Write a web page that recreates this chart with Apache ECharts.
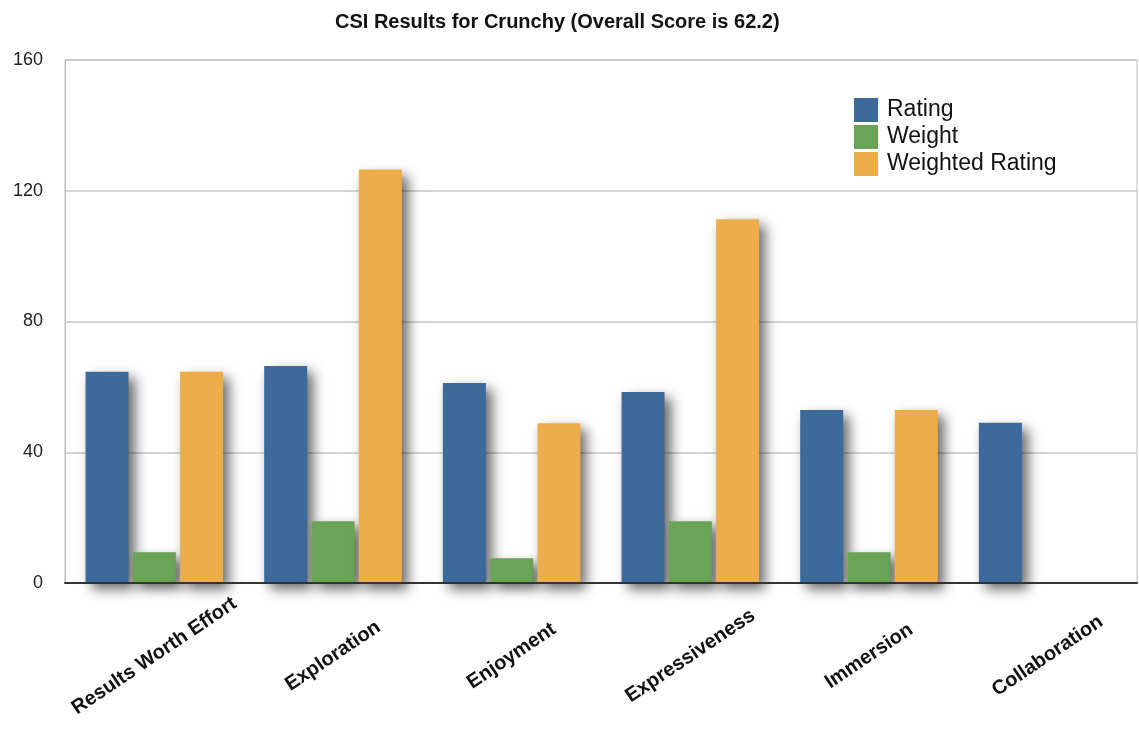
<!DOCTYPE html>
<html>
<head>
<meta charset="utf-8">
<title>CSI Results for Crunchy</title>
<script src="https://cdn.jsdelivr.net/npm/echarts@6/dist/echarts.min.js"></script>
<style>
  html, body { margin: 0; padding: 0; background: #fff; }
  #chart { width: 1139px; height: 736px; }
</style>
</head>
<body>
<div id="chart"></div>
<script>
const categories = ["Results Worth Effort", "Exploration", "Enjoyment", "Expressiveness", "Immersion", "Collaboration"];
const rating = [64.6, 66.4, 61.2, 58.4, 52.9, 49.0];
const weight = [9.4, 18.9, 7.6, 18.9, 9.4, 0];
const weightedRating = [64.6, 126.5, 48.9, 111.3, 52.9, 0];
const yTicks = { min: 0, max: 160, interval: 40 };

const FONT = "'Liberation Sans', Arial, Helvetica, sans-serif";

const chart = echarts.init(document.getElementById("chart"));

// shared bar shadow, like the Keynote look
const shadow = {
  shadowColor: "rgba(0, 0, 0, 0.6)",
  shadowBlur: 12,
  shadowOffsetX: 6,
  shadowOffsetY: 6,
};

const makeSeries = (name, data, color) => ({
  name,
  type: "bar",
  data,
  barWidth: 43,
  barGap: "10%",
  itemStyle: { color, ...shadow },
  emphasis: { disabled: true },
});

const option = {
  animation: false,
  title: {
    text: "CSI Results for Crunchy (Overall Score is 62.2)",
    left: 330,
    top: 7,
    textStyle: { fontFamily: FONT, fontSize: 20, fontWeight: "bold", color: "#111" },
  },
  legend: {
    orient: "vertical",
    left: 849,
    top: 93,
    icon: "rect",
    itemWidth: 24,
    itemHeight: 24,
    itemGap: 3,
    textStyle: { fontFamily: FONT, fontSize: 23, color: "#111", padding: [0, 0, 0, 4] },
    data: ["Rating", "Weight", "Weighted Rating"],
  },
  grid: {
    left: 65,
    right: 2,
    top: 60,
    bottom: 153,
    show: true,
    borderColor: "#bdbdbd",
    borderWidth: 1,
  },
  xAxis: {
    type: "category",
    data: categories,
    z: 5,
    axisLine: { show: true, lineStyle: { color: "#333", width: 2 } },
    axisTick: { show: false },
    axisLabel: {
      interval: 0,
      rotate: 34,
      align: "center",
      verticalAlign: "middle",
      margin: 73,
      fontFamily: FONT,
      fontSize: 20,
      fontWeight: "bold",
      color: "#111",
    },
  },
  yAxis: {
    type: "value",
    min: yTicks.min,
    max: yTicks.max,
    interval: yTicks.interval,
    axisLine: { show: true, lineStyle: { color: "#bdbdbd" } },
    axisTick: { show: false },
    splitLine: { lineStyle: { color: "#c6c6c6", width: 1.5 } },
    axisLabel: { margin: 22, fontFamily: FONT, fontSize: 18, color: "#222" },
  },
  series: [
    makeSeries("Rating", rating, "#3b6a9b"),
    makeSeries("Weight", weight, "#6aa457"),
    makeSeries("Weighted Rating", weightedRating, "#ebae4b"),
  ],
};

chart.setOption(option);
</script>
</body>
</html>
